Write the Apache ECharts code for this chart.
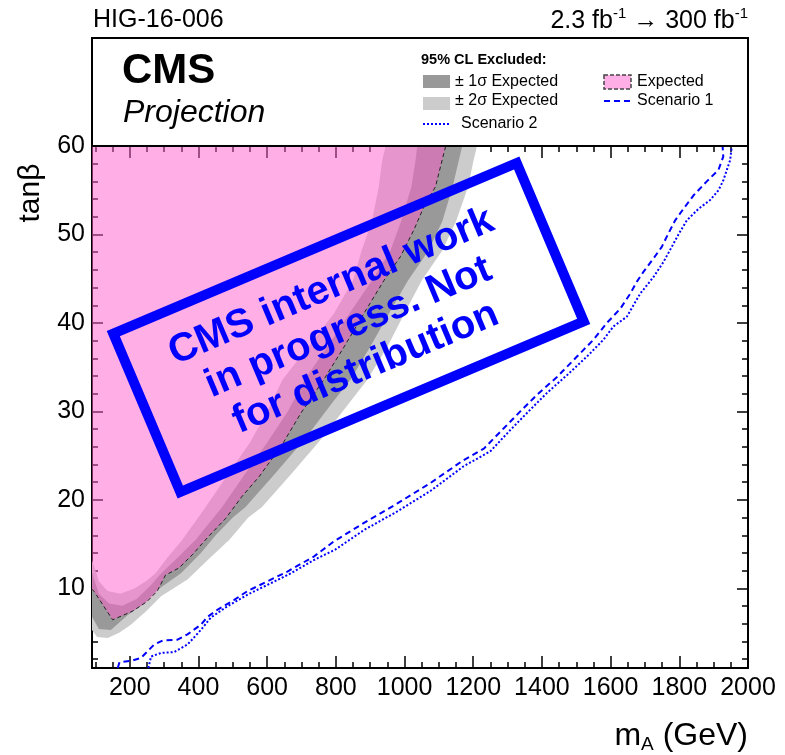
<!DOCTYPE html>
<html>
<head>
<meta charset="utf-8">
<script src="https://cdn.jsdelivr.net/npm/echarts@6/dist/echarts.min.js"></script>
<style>
  html, body { margin: 0; padding: 0; background: #fff; }
  #app { width: 785px; height: 755px; }
</style>
</head>
<body>
<div id="app"></div>
<script>
// tick positions
var xMajor = [200, 400, 600, 800, 1000, 1200, 1400, 1600, 1800, 2000];
var xMinor = [100, 150, 250, 300, 350, 450, 500, 550, 650, 700, 750, 850, 900, 950,
  1050, 1100, 1150, 1250, 1300, 1350, 1450, 1500, 1550, 1650, 1700, 1750, 1850, 1900, 1950];
var yMajor = [10, 20, 30, 40, 50, 60];
var yMinor = [2, 4, 6, 8, 12, 14, 16, 18, 22, 24, 26, 28, 32, 34, 36, 38,
  42, 44, 46, 48, 52, 54, 56, 58];

// curves as [mA, tanb]
var expected = [[90, 9.9], [96, 9.66], [150, 6.45], [207, 7.4], [250, 8.5], [280, 9.7], [304, 11.5],
  [343, 12.3], [382, 13.8], [430, 15.9], [479, 17.9], [527, 20.4], [576, 22.6], [643, 26.2],
  [698, 29.8], [765, 33.6], [824, 37.3], [882, 41.1], [940, 44.8], [988, 47.5], [1027, 50.5],
  [1056, 53.1], [1090, 55.4], [1114, 59.1], [1120, 60]];
var minus2 = [[90, 13.2], [110, 10.8], [135, 9.7], [173, 9.4], [215, 10.0], [250, 10.9], [275, 11.7],
  [310, 13.5], [353, 15.5], [421, 19.2], [488, 23.0], [550, 26.5], [600, 30.0], [645, 33.6],
  [720, 37.3], [795, 41.1], [850, 44.8], [875, 48.2], [905, 51.5], [925, 55.4], [935, 58.4], [945, 60]];
var minus1 = [[90, 11.8], [110, 9.4], [140, 8.3], [178, 8.05], [220, 8.8], [260, 10.3], [292, 11.7],
  [340, 13.5], [392, 15.5], [469, 19.2], [537, 23.0], [600, 26.5], [660, 30.0], [710, 33.6],
  [775, 37.3], [840, 41.1], [905, 44.8], [959, 48.2], [990, 51.5], [1020, 55.4], [1032, 58.4], [1037, 60]];
var plus1 = [[90, 6.8], [110, 5.4], [145, 5.3], [194, 7.0], [240, 8.2], [281, 9.85], [349, 11.7],
  [407, 14.0], [450, 16.0], [500, 18.0], [537, 19.2], [624, 23.0], [712, 27.0], [790, 31.0],
  [843, 33.6], [900, 37.3], [955, 41.1], [1010, 44.8], [1070, 48.2], [1110, 51.5], [1140, 55.4],
  [1158, 58.4], [1168, 60]];
var plus2 = [[90, 5.3], [105, 4.5], [136, 4.4], [170, 5.0], [203, 5.9], [250, 7.5], [291, 9.1],
  [368, 11.0], [427, 13.2], [490, 15.5], [545, 18.0], [585, 19.2], [672, 23.0], [760, 27.0],
  [840, 31.0], [892, 33.6], [950, 37.3], [1000, 41.1], [1050, 44.8], [1110, 48.2], [1150, 51.5],
  [1185, 55.4], [1201, 58.4], [1211, 60]];
var scenario1 = [[165, 1.0], [170, 1.65], [203, 1.8], [233, 2.15], [271, 3.65], [296, 4.1], [339, 4.2],
  [368, 4.8], [407, 5.9], [427, 6.8], [456, 7.6], [504, 8.7], [543, 9.7], [601, 10.8], [659, 11.9],
  [736, 13.6], [794, 15.3], [882, 17.4], [979, 19.6], [1075, 21.9], [1172, 24.5], [1231, 25.8],
  [1289, 28.1], [1337, 30.0], [1386, 31.9], [1444, 33.9], [1502, 36.2], [1550, 38.1], [1589, 40.0],
  [1628, 41.6], [1657, 43.3], [1677, 44.7], [1696, 45.8], [1725, 47.3], [1749, 48.6], [1768, 50.1],
  [1788, 51.6], [1812, 52.9], [1841, 54.4], [1880, 56.0], [1914, 57.3], [1928, 58.8], [1926, 60]];
var scenario2 = [[254, 1.0], [262, 2.3], [291, 2.7], [329, 2.8], [368, 3.65], [407, 5.3], [436, 6.7],
  [485, 8.0], [543, 9.3], [601, 10.4], [669, 11.7], [736, 13.2], [799, 14.4], [882, 16.6], [979, 18.7],
  [1075, 21.0], [1172, 23.8], [1250, 25.5], [1308, 27.9], [1366, 30.2], [1415, 32.1], [1473, 34.1],
  [1531, 36.2], [1579, 38.1], [1608, 39.6], [1647, 40.7], [1686, 43.3], [1725, 45.2], [1754, 46.9],
  [1778, 48.6], [1802, 50.3], [1822, 51.6], [1856, 52.9], [1890, 53.9], [1914, 55.0], [1928, 56.1],
  [1948, 58.4], [1953, 60]];

var FONT = "'Liberation Sans', Arial, Helvetica, sans-serif";
var chart = echarts.init(document.getElementById("app"));

// polygon between two edges (second edge walked backwards)
function band(a, b) {
  return a.concat(b.slice().reverse());
}

function polySeries(pts, color, z) {
  return {
    type: "custom",
    coordinateSystem: "cartesian2d",
    xAxisIndex: 0,
    yAxisIndex: 0,
    data: [[1000, 30]],
    silent: true,
    clip: true,
    z: z,
    renderItem: function (params, api) {
      return {
        type: "polygon",
        shape: { points: pts.map(function (p) { return api.coord(p); }) },
        style: { fill: color }
      };
    }
  };
}

function plain(v) { return String(v); }

function xAx(pos, ticks, len, labels, line) {
  return {
    type: "value", min: 90, max: 2000, position: pos,
    axisLine: { show: line, onZero: false, lineStyle: { color: "#000", width: 2 } },
    axisTick: { show: true, inside: true, length: len, customValues: ticks, lineStyle: { color: "#000", width: 1.5 } },
    axisLabel: labels ? { customValues: ticks, formatter: plain, fontSize: 25, fontFamily: FONT, color: "#000", margin: 8 } : { show: false },
    splitLine: { show: false }
  };
}
function yAx(pos, ticks, len, labels, line) {
  return {
    type: "value", min: 1, max: 60, position: pos,
    axisLine: { show: line, onZero: false, lineStyle: { color: "#000", width: 2 } },
    axisTick: { show: true, inside: true, length: len, customValues: ticks, lineStyle: { color: "#000", width: 1.5 } },
    axisLabel: labels ? { customValues: ticks, formatter: plain, fontSize: 25, fontFamily: FONT, color: "#000", margin: 7 } : { show: false },
    splitLine: { show: false }
  };
}

var option = {
  animation: false,
  backgroundColor: "#fff",
  grid: { left: 92, right: 37, top: 146, bottom: 87, outerBoundsMode: "none" },
  xAxis: [
    xAx("bottom", xMajor, 12, true, true),
    xAx("bottom", xMinor, 6, false, false),
    xAx("top", xMajor, 12, false, true),
    xAx("top", xMinor, 6, false, false)
  ],
  yAxis: [
    yAx("left", yMajor, 11, true, true),
    yAx("left", yMinor, 6, false, false),
    yAx("right", yMajor, 11, false, true),
    yAx("right", yMinor, 6, false, false)
  ],
  series: [
    polySeries(band(minus2, plus2), "#cccccc", 1),
    polySeries(band(minus1, plus1), "#999999", 2),
    polySeries(expected.concat([[90, 60]]), "rgba(255,95,205,0.5)", 3),
    {
      type: "line", data: expected, symbol: "none", silent: true, z: 4,
      lineStyle: { color: "#222", width: 1, type: [4, 3] }
    },
    {
      type: "line", data: scenario1, symbol: "none", silent: true, z: 5,
      lineStyle: { color: "#0000ff", width: 2, type: [6, 4] }
    },
    {
      type: "line", data: scenario2, symbol: "none", silent: true, z: 5,
      lineStyle: { color: "#0000ff", width: 2, type: [2, 2] }
    }
  ],
  graphic: [
    // legend / header box
    { type: "rect", shape: { x: 92, y: 38, width: 656, height: 108 }, style: { fill: "#fff", stroke: "#000", lineWidth: 2 }, z: 10 },
    { type: "text", x: 93, y: 20, style: { text: "HIG-16-006", font: "25px " + FONT, fill: "#000", verticalAlign: "middle" }, z: 11 },
    {
      type: "text", x: 748, y: 20, z: 11,
      style: {
        text: "{a|2.3 fb}{s|-1}{a| \u2192 300 fb}{s|-1}", align: "right", verticalAlign: "middle",
        rich: {
          a: { fontSize: 25, fontFamily: FONT, fill: "#000", lineHeight: 28, verticalAlign: "bottom" },
          s: { fontSize: 15, fontFamily: FONT, fill: "#000", lineHeight: 15, verticalAlign: "top" }
        }
      }
    },
    { type: "text", x: 122, y: 71, style: { text: "CMS", font: "bold 42px " + FONT, fill: "#000", verticalAlign: "middle" }, z: 11 },
    { type: "text", x: 123, y: 113, style: { text: "Projection", font: "italic 32px " + FONT, fill: "#000", verticalAlign: "middle" }, z: 11 },
    { type: "text", x: 421, y: 60, style: { text: "95% CL Excluded:", font: "bold 14.5px " + FONT, fill: "#000", verticalAlign: "middle" }, z: 11 },
    { type: "rect", shape: { x: 423, y: 75, width: 27, height: 13 }, style: { fill: "#999999" }, z: 11 },
    { type: "text", x: 455, y: 82, style: { text: "\u00b1 1\u03c3 Expected", font: "16px " + FONT, fill: "#000", verticalAlign: "middle" }, z: 11 },
    { type: "rect", shape: { x: 423, y: 97, width: 27, height: 13 }, style: { fill: "#cccccc" }, z: 11 },
    { type: "text", x: 455, y: 101, style: { text: "\u00b1 2\u03c3 Expected", font: "16px " + FONT, fill: "#000", verticalAlign: "middle" }, z: 11 },
    { type: "line", shape: { x1: 423, y1: 124, x2: 450, y2: 124 }, style: { stroke: "#0000ff", lineWidth: 2, lineDash: [2, 2] }, z: 11 },
    { type: "text", x: 461, y: 124, style: { text: "Scenario 2", font: "16px " + FONT, fill: "#000", verticalAlign: "middle" }, z: 11 },
    { type: "rect", shape: { x: 604, y: 75, width: 27, height: 14 }, style: { fill: "#ffaee6", stroke: "#444", lineWidth: 1.5, lineDash: [4, 2] }, z: 11 },
    { type: "text", x: 637, y: 82, style: { text: "Expected", font: "16px " + FONT, fill: "#000", verticalAlign: "middle" }, z: 11 },
    { type: "line", shape: { x1: 604, y1: 101, x2: 631, y2: 101 }, style: { stroke: "#0000ff", lineWidth: 2, lineDash: [6, 4] }, z: 11 },
    { type: "text", x: 637, y: 101, style: { text: "Scenario 1", font: "16px " + FONT, fill: "#000", verticalAlign: "middle" }, z: 11 },
    // axis titles
    { type: "text", x: 31, y: 193, rotation: Math.PI / 2, style: { text: "tan\u03b2", font: "30px " + FONT, fill: "#000", align: "center", verticalAlign: "middle" }, z: 11 },
    {
      type: "text", x: 748, y: 737, z: 11,
      style: {
        text: "{a|m}{b|A}{a| (GeV)}", align: "right", verticalAlign: "middle",
        rich: {
          a: { fontSize: 32, fontFamily: FONT, fill: "#000", lineHeight: 34, verticalAlign: "top" },
          b: { fontSize: 19, fontFamily: FONT, fill: "#000", lineHeight: 19, padding: [19, 0, 0, 0], verticalAlign: "bottom" }
        }
      }
    },
    // watermark, drawn above the series
    {
      type: "group", x: 348.5, y: 327.5, rotation: 0.4, zlevel: 1, z: 100,
      children: [
        { type: "rect", zlevel: 1, z: 100, shape: { x: -219, y: -86, width: 438, height: 172 }, style: { fill: null, stroke: "#0000ff", lineWidth: 10 } },
        {
          type: "text", zlevel: 1, z: 100, x: 0, y: 0,
          style: {
            text: "CMS internal work\nin progress. Not\nfor distribution",
            font: "bold 40px " + FONT, fill: "#0000ff", align: "center", verticalAlign: "middle", lineHeight: 44
          }
        }
      ]
    }
  ]
};

chart.setOption(option);
</script>
</body>
</html>
